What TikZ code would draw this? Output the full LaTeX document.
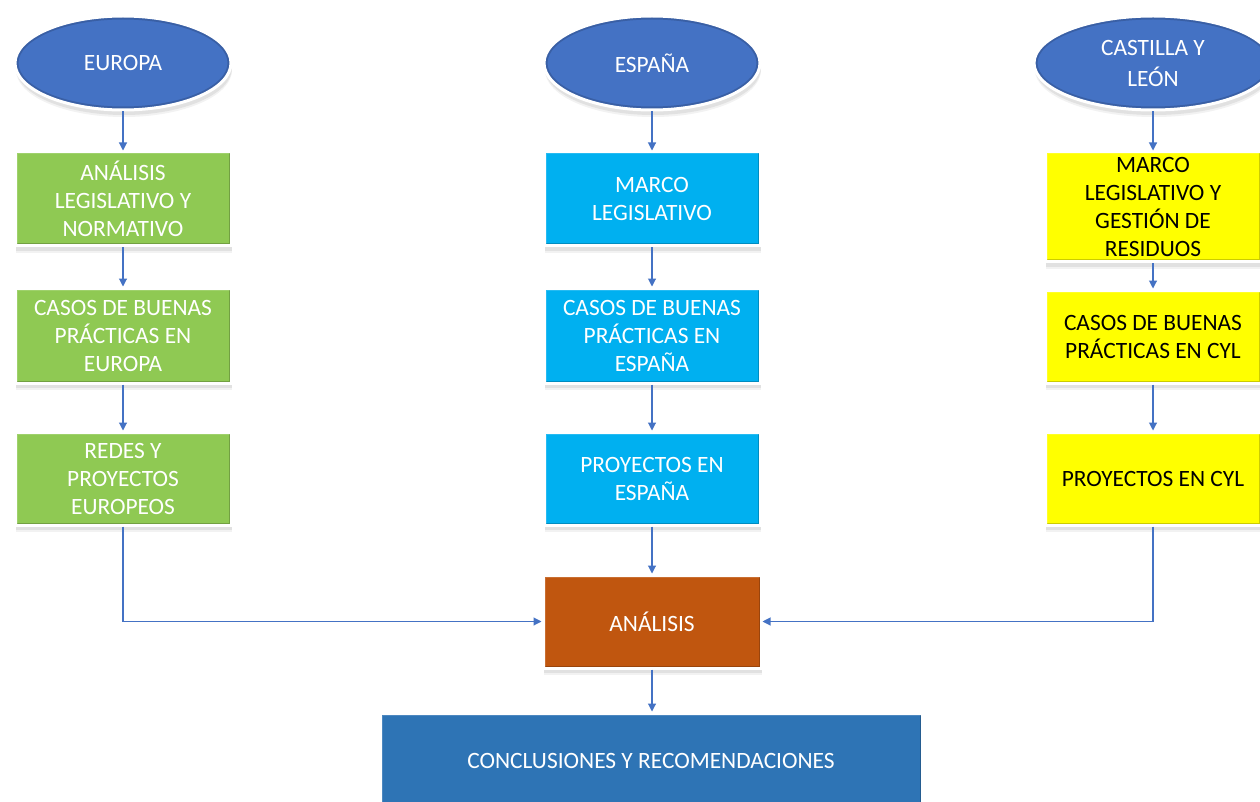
\documentclass[tikz,border=0pt]{standalone}
\usepackage{fontspec}
\setmainfont{Carlito}
\usetikzlibrary{shapes.geometric,arrows.meta,shadows,calc}
\definecolor{elblue}{HTML}{4472C4}
\definecolor{linkblue}{HTML}{4472C4}
\definecolor{grn}{HTML}{8FC953}
\definecolor{cyn}{HTML}{00B0F0}
\definecolor{ylw}{HTML}{FFFF00}
\definecolor{org}{HTML}{C0560F}
\definecolor{dblue}{HTML}{2E74B5}
\begin{document}
\begin{tikzpicture}[x=1pt,y=-1pt,
  font=\fontsize{23.4}{28}\selectfont,
  shad/.style={drop shadow={opacity=0.10,shadow xshift=1pt,shadow yshift=-7pt},
               drop shadow={opacity=0.15,shadow xshift=1pt,shadow yshift=-5pt}},
  bevel/.style={path picture={
    \draw[black,opacity=0.2,line width=5pt]
      (path picture bounding box.south west) -- (path picture bounding box.south east)
      -- (path picture bounding box.north east);
    \draw[white,opacity=0.15,line width=5pt]
      (path picture bounding box.south west) -- (path picture bounding box.north west)
      -- (path picture bounding box.north east);}},
  ring/.style={path picture={
    \draw[elblue!65!black,opacity=0.45,line width=4pt]
      let \p1=(path picture bounding box.north east),
          \p2=(path picture bounding box.center) in
      (\p2) ellipse [x radius={\x1-\x2-1.5pt}, y radius={\y1-\y2-1.5pt}];}},
  region/.style={ellipse, draw=white, line width=3pt, fill=elblue, text=white,
    minimum width=216pt, minimum height=94pt, inner sep=0pt, align=center, shad, ring},
  stepbox/.style={rectangle, draw=white, line width=3pt, minimum width=216pt,
    inner sep=0pt, align=center, shad, bevel},
  greenbox/.style={stepbox, fill=grn, text=white},
  cyanbox/.style={stepbox, fill=cyn, text=white},
  yellowbox/.style={stepbox, fill=ylw, text=black},
  conn/.style={draw=linkblue, line width=1.1pt, -{Triangle[width=8pt,length=8pt]}}]
\useasboundingbox (0,0) rectangle (1260,802);
\fill[white] (0,0) rectangle (1260,802);

% top ellipses
\node[region] (eu) at (123,63) {EUROPA};
\node[region] (es) at (652,63) {ESPAÑA};
\node[region, minimum width=238pt] (cyl) at (1153,63) {CASTILLA Y\\[3pt]LEÓN};

% Europe column
\node[greenbox, minimum height=94pt] (g1) at (123,199) {ANÁLISIS\\LEGISLATIVO Y\\NORMATIVO};
\node[greenbox, minimum height=95pt] (g2) at (123,335.5) {CASOS DE BUENAS\\PRÁCTICAS EN\\EUROPA};
\node[greenbox, minimum height=93pt] (g3) at (123,478.5) {REDES Y\\PROYECTOS\\EUROPEOS};

% Spain column
\node[cyanbox, minimum height=94pt] (c1) at (652,199) {MARCO\\LEGISLATIVO};
\node[cyanbox, minimum height=95pt] (c2) at (652,335.5) {CASOS DE BUENAS\\PRÁCTICAS EN\\ESPAÑA};
\node[cyanbox, minimum height=93pt] (c3) at (652,478.5) {PROYECTOS EN\\ESPAÑA};

% Castilla y Leon column
\node[yellowbox, minimum height=110pt] (y1) at (1153,207) {MARCO\\LEGISLATIVO Y\\GESTIÓN DE\\RESIDUOS};
\node[yellowbox, minimum height=93pt] (y2) at (1153,336.5) {CASOS DE BUENAS\\PRÁCTICAS EN CYL};
\node[yellowbox, minimum height=93pt] (y3) at (1153,478.5) {PROYECTOS EN CYL};

% analysis and conclusions
\node[stepbox, fill=org, text=white, minimum width=218pt, minimum height=93pt] (an) at (652,621.5) {ANÁLISIS};
\node[stepbox, fill=dblue, text=white, minimum width=542pt, minimum height=96pt] (co) at (651,761) {CONCLUSIONES Y RECOMENDACIONES};

% connectors
\draw[conn] (eu) -- (g1);
\draw[conn] (g1) -- (g2);
\draw[conn] (g2) -- (g3);
\draw[conn] (es) -- (c1);
\draw[conn] (c1) -- (c2);
\draw[conn] (c2) -- (c3);
\draw[conn] (c3) -- (an);
\draw[conn] (cyl) -- (y1);
\draw[conn] (y1) -- (y2);
\draw[conn] (y2) -- (y3);
\draw[conn] (g3.south) |- (an.west);
\draw[conn] (y3.south) |- (an.east);
\draw[conn] (an) -- (co.north -| an.south);
\end{tikzpicture}
\end{document}
